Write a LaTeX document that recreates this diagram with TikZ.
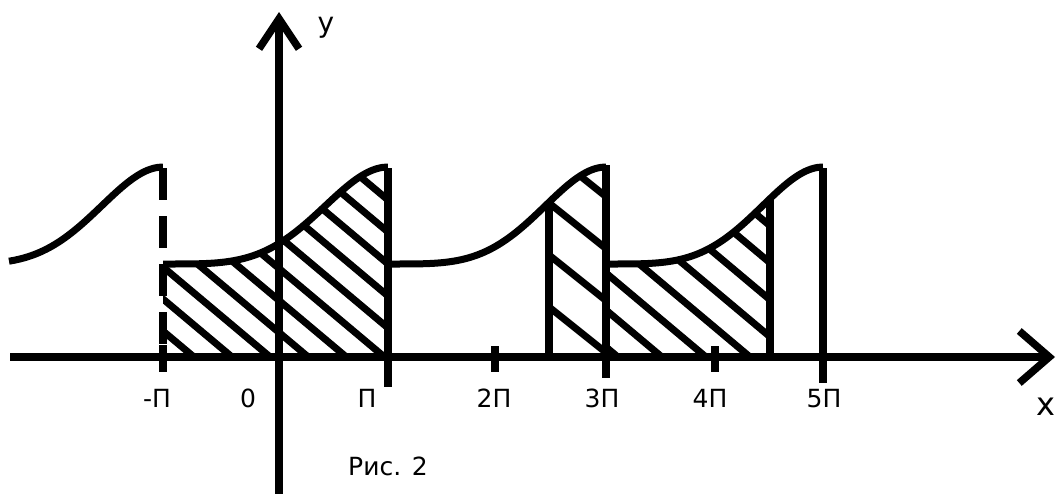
\documentclass[tikz,border=0pt]{standalone}
\usepackage{fontspec}
\setmainfont{DejaVu Sans}
\usetikzlibrary{arrows.meta}

\tikzset{
  axis/.style={line width=7.5pt},
  curve/.style={line width=7pt, line join=round},
  hatch/.style={line width=7pt},
  lbl/.style={font=\fontsize{25}{30}\selectfont, inner sep=0pt, anchor=base},
}

\begin{document}
\begin{tikzpicture}[x=1pt,y=-1pt,
    declare function={hump(\t)=264-48.5*(1-cos(180*\t*\t*(1.3-0.3*\t)));}]
  \useasboundingbox (0,0) rectangle (1059,493);

  % hatched parts
  \begin{scope}
    \clip (163,357) -- plot[domain=0:1, samples=40, variable=\s] ({163+225*\s},{hump(\s)}) -- (388,357) -- cycle;
    \foreach \k in {-10,...,3}
      \draw[hatch] (63,{183+32*\k}) -- (463,{519+32*\k});
  \end{scope}
  \begin{scope}
    \clip (549,357) -- plot[domain=0.7385:1, samples=20, variable=\s] ({388+218*\s},{hump(\s)}) -- (606,357) -- cycle;
    \foreach \k in {-2,...,3}
      \draw[hatch] (500,{163.8+52*\k}) -- (660,{291.8+52*\k});
  \end{scope}
  \begin{scope}
    \clip (606,357) -- plot[domain=0:0.756, samples=30, variable=\s] ({606+217*\s},{hump(\s)}) -- (770,357) -- cycle;
    \foreach \k in {-6,...,3}
      \draw[hatch] (560,{234.4+37*\k}) -- (820,{452.8+37*\k});
  \end{scope}

  % the curve, period 2pi
  \draw[curve] plot[domain=0.3:1, samples=30, smooth, variable=\s] ({-57+220*\s},{hump(\s)});
  \draw[curve] plot[domain=0:1, samples=40, smooth, variable=\s] ({163+225*\s},{hump(\s)});
  \draw[curve] plot[domain=0:1, samples=40, smooth, variable=\s] ({388+218*\s},{hump(\s)});
  \draw[curve] plot[domain=0:1, samples=40, smooth, variable=\s] ({606+217*\s},{hump(\s)});

  % jumps and borders
  \draw[axis, dash pattern=on 32pt off 16pt] (163,168) -- (163,345);
  \draw[axis] (163,345) -- (163,372);
  \draw[axis] (388,168) -- (388,387);
  \draw[axis] (606,165) -- (606,378);
  \draw[axis] (823,168) -- (823,383);
  \draw[axis] (549,{hump(0.7385)}) -- (549,357);
  \draw[axis] (770,{hump(0.756)}) -- (770,357);
  \draw[axis] (495,346) -- (495,372);
  \draw[axis] (715,346) -- (715,372);

  % axes
  \coordinate (xs) at (10,357);
  \coordinate (xe) at (1055,357);
  \coordinate (ys) at (279,496);
  \coordinate (ye) at (279,12);
  \draw[axis, -{Straight Barb[length=30pt,width=52pt]}] (xs) -- (xe);
  \draw[axis, -{Straight Barb[length=30pt,width=40pt]}] (ys) -- (ye);

  \node[lbl, font=\fontsize{28}{32}\selectfont] (ylab) at (326,32) {y};
  \node[lbl, font=\fontsize{32}{36}\selectfont] (xlab) at (1046,415) {x};

  \node[lbl] (mpi) at (157,407) {-П};
  \node[lbl] (zero) at (248,407) {0};
  \node[lbl] (pi) at (367,407) {П};
  \node[lbl] (twopi) at (494,407) {2П};
  \node[lbl] (threepi) at (602,407) {3П};
  \node[lbl] (fourpi) at (710,407) {4П};
  \node[lbl] (fivepi) at (824,407) {5П};

  \node[lbl] (fig) at (388,475) {Рис. 2};
\end{tikzpicture}
\end{document}
